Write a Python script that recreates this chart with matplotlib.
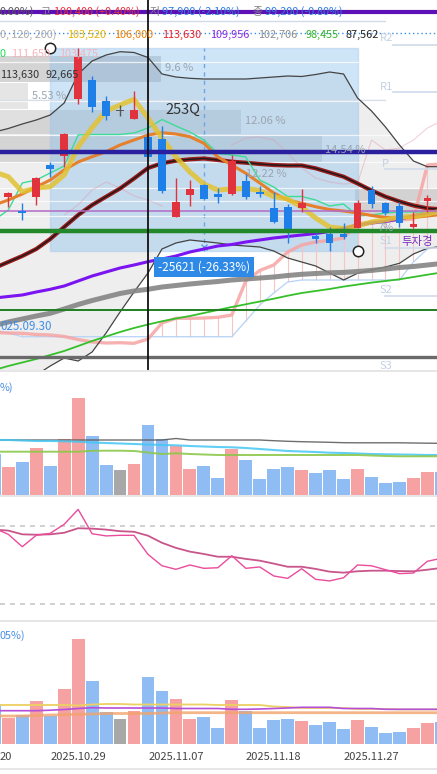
import numpy as np
import matplotlib
matplotlib.use('Agg')
import matplotlib.pyplot as plt
from matplotlib.patches import Rectangle
from matplotlib.transforms import Affine2D, blended_transform_factory
from matplotlib.lines import Line2D

plt.rcParams['font.family'] = ['Noto Sans CJK KR', 'DejaVu Sans']
nan = np.nan

# ---------------- data ----------------
dates = ['2025.10.21', '2025.10.22', '2025.10.23', '2025.10.24', '2025.10.27',
         '2025.10.28', '2025.10.29', '2025.10.30', '2025.10.31', '2025.11.03',
         '2025.11.04', '2025.11.05', '2025.11.06', '2025.11.07', '2025.11.10',
         '2025.11.11', '2025.11.12', '2025.11.13', '2025.11.14', '2025.11.17',
         '2025.11.18', '2025.11.19', '2025.11.20', '2025.11.21', '2025.11.24',
         '2025.11.25', '2025.11.26', '2025.11.27', '2025.11.28', '2025.12.01',
         '2025.12.02', '2025.12.03', '2025.12.04']
tick_pos = [5, 12, 19, 26]
tick_labels = ['2025.10.29', '2025.11.07', '2025.11.18', '2025.11.27']
edge_tick_label = '20'   # visible tail of the 2025.10.20 label at the left edge

open_ = [nan, 90270, 88900, 90270, 93470, 94400, 100070, 102000, 99900, 98930, 98100,
         96330, 96070, 88330, 90470, 91470, 90630, 90600, 91870, 90800, 89170, 89330,
         89230, 86400, 86570, 86570, 87170, 91000, 89730, 89430, 87270, 89900, nan]
high_ = [nan, 90800, 89730, 92330, 93830, 96730, 105230, 102400, 100400, 99500, 100900,
         96500, 97400, 92170, 92000, 91600, 91200, 94500, 92600, 91400, 90830, 89600,
         91070, 86730, 87300, 87730, 90000, 91400, 89800, 89800, 88830, 90500, nan]
low_ = [nan, 89330, 88000, 89530, 92270, 93330, 99570, 98830, 98000, 98400, 98100,
        94300, 90730, 88270, 89430, 90100, 89730, 90470, 90130, 90270, 87670, 85670,
        88770, 85670, 84930, 86070, 87170, 89170, 88470, 87270, 87170, 88830, nan]
close_ = [nan, 90730, 88670, 92230, 93070, 96600, 104330, 99270, 98400, 98930, 99000,
          94330, 90930, 89800, 91130, 90130, 90270, 93930, 90270, 90600, 87830, 86930,
          89670, 86070, 85670, 86330, 89670, 89600, 88730, 87670, 87600, 90170, nan]
direction = ['d', 'u', 'd', 'u', 'd', 'u', 'u', 'd', 'd', 'n', 'u', 'd', 'd', 'u', 'u', 'd',
             'd', 'u', 'd', 'd', 'd', 'd', 'u', 'd', 'd', 'd', 'u', 'd', 'd', 'd', 'u', 'u', 'd']

ma5 = [92800, 92330, 90830, 91200, 91330, 92500, 95330, 97230, 98900, 99500, 100070,
       98200, 96200, 94300, 92800, 91600, 91000, 91100, 91150, 90950, 90350, 90100,
       89300, 88200, 87300, 87150, 87400, 87800, 88000, 88300, 88350, 88600, 88900]
ma10 = [89500, 90000, 90600, 91300, 92000, 93000, 93800, 94330, 94830, 95500, 96000,
        96500, 96730, 96600, 96330, 95670, 94300, 93500, 92670, 91700, 90700, 90000,
        89670, 89330, 89050, 88900, 88700, 88450, 88250, 88200, 88250, 88400, 88550]
conv_line = [88000, 89000, 91700, 92000, 92700, 93400, 96500, 96550, 96550, 96550, 96700,
             97200, 98050, 97400, 96800, 96000, 94650, 94500, 94300, 92000, 91300, 90350,
             90350, 90000, 89400, 89600, 88400, 88500, 88700, 88800, 88800, 88800, 88900]
ma20 = [83200, 83800, 84400, 85100, 86100, 87300, 88500, 89500, 90330, 91150, 92150,
        93200, 93670, 93930, 94070, 94150, 94000, 93830, 93730, 93600, 93500, 93450,
        93450, 93170, 92750, 92330, 91650, 90950, 90330, 89850, 89450, 89170, 89070]
ma60 = [80200, 80350, 80500, 80800, 81070, 81400, 81900, 82400, 82800, 83200, 83500,
        83830, 84100, 84400, 84800, 85100, 85400, 85550, 85800, 86000, 86200, 86350,
        86500, 86650, 86850, 87150, 87500, 87700, 87850, 88100, 88400, 88700, 89000]
ma120 = [77450, 77800, 78100, 78400, 78670, 79100, 79550, 79950, 80300, 80650, 80900,
         81070, 81300, 81450, 81600, 81730, 81850, 82000, 82100, 82200, 82300, 82450,
         82570, 82650, 82720, 82760, 82850, 82960, 83100, 83250, 83350, 83500, 83650]
ma200 = [73000, 73400, 73750, 74100, 74500, 74900, 75400, 75900, 76350, 76800, 77200,
         77550, 77870, 78150, 78400, 78700, 79000, 79300, 79570, 79850, 80130, 80430,
         80700, 80900, 81100, 81340, 81540, 81740, 81900, 82070, 82300, 82530, 82750]
bb_upper = [96800, 97150, 97600, 98000, 98500, 99700, 102600, 103900, 104500, 104830, 104750,
            104250, 102600, 102300, 102170, 102100, 102100, 102100, 102100, 102200, 102300, 102400,
            102350, 102550, 102800, 102600, 100200, 98900, 97300, 95500, 93900, 93330, 93330]
bb_lower = [70500, 71000, 71700, 72500, 73400, 74200, 73900, 74800, 76700, 78800, 80800,
            82700, 85100, 85700, 86000, 85850, 85700, 85500, 85400, 85300, 84900, 84200,
            83800, 83400, 82700, 82000, 82670, 83000, 83300, 83670, 84600, 85170, 85350]
stop_line = [76750, 76700, 76670, 76550, 76500, 76350, 76050, 75800, 75700, 75730, 75670,
             76100, 77700, 78170, 78170, 78200, 78270, 78500, 81900, 82950, 83500, 84800,
             85500, 85800, 85970, 86200, 87600, 87800, 87900, 88000, 88100, 93500, 93600]
base_line = [77000, 76700, 76330, 76330, 76330, 76330, 76330, 76330, 76330, 76330, 76330,
             76330, 76330, 76330, 76330, 76330, 76330, 76330, 77900, 79500, 80700, 81800,
             82000, 82000, 82000, 82000, 82000, 82000, 82000, 82000, 83800, 85100, 85400]
span_line = [nan, nan, nan, nan, nan, 88500, 89500, 91000, 91800, 91200, 90400,
             90000, 89400, nan, nan, nan, nan, 95500, 96200, 96300, 96000, 94700,
             93200, 92200, 91800, 91600, 91700, 96000, 95000, 95200, 96000, 97200, 97900]

levels = {'purple': 108800, 'navy': 94830, 'violet': 88930, 'green': 86900,
          'dkgreen': 79030, 'gray': 74300, 'dotted': 106670}
measure = {'x0': 3, 'p0': 105230, 'x1': 25, 'p1': 84930}

volume_k = [407, 283, 327, 470, 290, 560, 973, 593, 300, 247, 310, 703, 560, 490, 263, 290,
            173, 463, 353, 163, 263, 280, 247, 217, 253, 157, 263, 183, 120, 130, 173, 227, 227]
vol_ma_a = [550, 550, 550, 550, 550, 550, 550, 550, 550, 550, 550, 550, 550, 565, 550, 550,
            550, 550, 550, 550, 543, 537, 533, 530, 527, 523, 522, 522, 522, 522, 520, 518, 517]
vol_ma_b = [550, 550, 545, 540, 540, 537, 533, 525, 520, 515, 510, 505, 500, 497, 490, 485,
            480, 477, 470, 460, 450, 440, 435, 430, 423, 420, 415, 410, 407, 405, 403, 400, 400]
vol_ma_c = [433, 433, 433, 433, 433, 433, 433, 442, 443, 443, 440, 425, 410, 417, 410, 405,
            400, 400, 400, 400, 400, 400, 400, 400, 400, 400, 400, 395, 390, 387, 387, 387, 387]

osc = [68.7, 65.6, 59.3, 65.1, 66.1, 70.7, 78.3, 65.9, 64.8, 65.1, 65.1, 55.4, 49.6, 47.8,
       50.0, 48.3, 48.6, 54.7, 48.3, 49.0, 44.4, 43.2, 48.1, 42.7, 41.9, 43.5, 50.0, 49.6,
       47.6, 45.6, 45.9, 51.9, 53.4]
osc_signal = [68.0, 67.5, 65.6, 65.4, 65.6, 66.4, 68.7, 68.5, 68.0, 67.2, 66.9, 64.9, 61.3,
              58.7, 56.8, 55.6, 54.2, 54.2, 53.1, 52.2, 50.7, 49.1, 49.1, 48.0, 46.6, 46.1,
              46.8, 47.1, 47.1, 46.9, 46.8, 47.6, 48.5]
osc_bands = [70, 30]

amount = [39, 26.3, 29, 43.3, 28, 55.3, 105.3, 63, 32, 25.3, 32.7, 66.7, 53.3, 45, 24.7, 27.3,
          16.3, 44, 33.3, 15.7, 24.3, 24.7, 23, 19.3, 21.7, 14.7, 23.7, 17.3, 11, 12, 15.7, 21, 22]
amt_ma_a = [39, 39, 39, 39, 39, 39, 38.5, 39.5, 40, 40, 39.5, 39.5, 39.5, 39.5, 39.5, 39.5,
            39, 39, 39, 39, 37.5, 37, 36, 36, 36, 36, 35, 35, 35, 34.5, 34.5, 34.5, 34.5]
amt_ma_b = [33.3, 33.3, 33.3, 33.3, 33.8, 34.5, 35.5, 36.3, 36, 36, 36, 36, 36, 35.5, 35.5,
            35.5, 35.5, 34.7, 34.7, 35, 35.5, 36, 36.7, 36.7, 36.7, 35.5, 35.5, 35.5, 34.7,
            34.7, 34.7, 34.7, 34.7]
amt_ma_c = [28, 28, 28, 28.5, 29, 29.3, 29.7, 30, 30.5, 30.5, 30.5, 30.5, 31, 31.3, 31.3,
            31.3, 31.3, 31.3, 31.3, 31.3, 31.3, 31.3, 31.3, 31.3, 31.3, 31.3, 31.3, 31.3, 31.3,
            31.3, 31.3, 31.3, 31.3]

# ---------------- figure ----------------
W, H = 437, 774
fig = plt.figure(figsize=(W / 100, H / 100), dpi=100)
T = Affine2D().scale(1, -1).translate(0, H)   # pixel coords, y down

x = np.arange(len(dates)) - 1
XL = (-0.594, 30.687)


def panel(top, bottom):
    a = fig.add_axes([0, 1 - bottom / H, 1, (bottom - top) / H])
    a.set_xlim(*XL)
    a.set_axis_off()
    return a


ax = panel(0, 370)
ax.set_ylim(73000, 110000)

o = np.array(open_); hi = np.array(high_); lo = np.array(low_); c = np.array(close_)

# Bollinger fill
ax.fill_between(x, bb_lower, bb_upper, color='#eeeeee', lw=0, zorder=0.5)

# gray range boxes (annotations, pixel coords)
for (x0, x1, y0, y1, a) in [(-2, 161, 56, 82, 0.36), (-2, 28, 83, 109, 0.22),
                            (-2, 241, 110, 134, 0.26), (-2, 322, 136, 162, 0.26),
                            (355, 440, 189, 217, 0.28)]:
    ax.add_patch(Rectangle((x0, y0), x1 - x0, y1 - y0, transform=T, fc='#8a8a8a',
                           ec='none', alpha=a, zorder=1))

# measurement box
ax.add_patch(Rectangle((measure['x0'], measure['p1']), measure['x1'] - measure['x0'],
                       measure['p0'] - measure['p1'], fc='#8cbfed', ec='#9ec3ec', lw=1,
                       alpha=0.42, zorder=1.5))
xm = (measure['x0'] + measure['x1']) / 2
ax.plot([xm, xm], [measure['p1'], measure['p0']], color='#6aa6e8', lw=1, ls=(0, (3, 3)),
        zorder=1.6)
ax.plot([xm], [measure['p1'] + 350], marker='x', ms=4, color='#5a9be6', zorder=1.6)

# light gridlines
for yy in [62, 101, 135, 162, 188, 201, 216]:
    ax.plot([0, W], [yy, yy], transform=T, color='white', lw=0.9, alpha=0.75, zorder=1.6)
for yy in [21, 100]:
    ax.plot([0, 385], [yy, yy], transform=T, color='#d3dbe6', lw=1, zorder=1.55)

# thin lines
ax.plot(x, span_line, color='#e39aae', lw=0.8, alpha=0.45, zorder=1.7)
sp = np.array(stop_line); bl = np.array(base_line)
m = sp > bl + 100
ax.vlines(x[m], bl[m], sp[m], color='#f6c4c4', lw=0.8, zorder=1.7)
ax.plot(x, base_line, color='#bcd6f5', lw=1, zorder=1.8)
ax.plot(x, stop_line, color='#f6a4a4', lw=2.4, alpha=0.85, zorder=1.9)
ax.plot(x, bb_upper, color='#444444', lw=0.9, zorder=2)
ax.plot(x, bb_lower, color='#444444', lw=0.9, zorder=2)
ax.plot(x, ma200, color='#35c02a', lw=1.3, zorder=2.1)
ax.plot(x, ma120, color='#858585', lw=3.6, alpha=0.9, zorder=2.2)
ax.plot(x, ma60, color='#7a14f0', lw=2.2, zorder=2.3)
ax.plot(x, ma20, color='#9b1c1c', lw=3.0, zorder=2.4)
ax.plot(x, ma20, color='#1a1a1a', lw=1.0, zorder=2.45)
ax.plot(x, conv_line, color='#3ddc97', lw=1.0, zorder=2.5)
ax.plot(x, ma10, color='#e5802c', lw=2.2, zorder=2.6)
ax.plot(x, ma5, color='#e2c232', lw=3.6, alpha=0.85, zorder=2.7)

# horizontal level lines
ax.axhline(levels['violet'], color='#b46ac6', lw=1.1, zorder=3)
ax.axhline(levels['dkgreen'], color='#1f7f1f', lw=1.4, zorder=3)
ax.axhline(levels['gray'], color='#6a6a6a', lw=2.4, zorder=3)
ax.axhline(levels['dotted'], color='#3c8fe8', lw=1, ls=(0, (1, 2)), zorder=3)

# pivots
for name, yl, yline, xs in [('R2', 38, 45, 393), ('R1', 87, 92, 393), ('P', 164, 169.3, 385),
                            ('S1', 241, 248, 385), ('S2', 290, 296, 385), ('S3', 366, 373, 385)]:
    ax.plot([xs, W], [yline, yline], transform=T, color='#d0dbea', lw=1.2, zorder=3)
    ax.text(380 if name != 'P' else 382, yl, name, transform=T, color='#c3d0e3',
            fontsize=8, va='center', ha='left', zorder=3)

# candles
UP, DN, NT = '#e0333d', '#1f7fe8', '#555555'
for i in range(len(x)):
    if np.isnan(o[i]):
        continue
    col = UP if c[i] > o[i] else (DN if c[i] < o[i] else NT)
    ax.vlines(x[i], lo[i], hi[i], color=col, lw=1.0, zorder=5)
    ax.bar(x[i], max(abs(c[i] - o[i]), 90), bottom=min(o[i], c[i]), width=0.55,
           color=col, lw=0, zorder=5)

ax.axhline(levels['navy'], color='#2a1f9e', lw=3.2, zorder=6)
ax.axhline(levels['green'], color='#22882a', lw=3.2, zorder=6)
ax.axhline(levels['purple'], color='#5c10b5', lw=3.0, zorder=6)

# box labels
lab = dict(transform=T, color='#9aa4b0', fontsize=8, va='center', ha='left', zorder=7)
ax.text(165, 68, '9.6 %', **lab)
ax.text(32, 96, '5.53 %', **lab)
ax.text(245, 121, '12.06 %', **lab)
ax.text(325, 150, '14.54 %', **lab)
ax.text(246, 174, '12.22 %', **lab)
ax.text(377, 228, '7%', **lab)
ax.text(165, 110, '253Q', transform=T, color='#333333', fontsize=10.5, va='center',
        ha='left', zorder=7)
ax.text(401, 242, '투자경', transform=T, color='#7a2fbf', fontsize=8.2, va='center',
        ha='left', zorder=7)
ax.text(0, 327, '025.09.30', transform=T, color='#3d8ee8', fontsize=8.3, va='center',
        ha='left', zorder=7)
ax.text(xm, 267, '-25621 (-26.33%)', transform=blended_transform_factory(ax.transData, T),
        color='white', fontsize=8.5, va='center', ha='center', zorder=8,
        bbox=dict(boxstyle='square,pad=0.32', fc='#2e8ae6', ec='none'))
ax.plot([measure['x0'], measure['x1']], [measure['p0'], measure['p1']], ls='none',
        marker='o', ms=7.5, mfc='white', mec='#222222', mew=1.1, zorder=8, clip_on=False)

# crosshair
ax.axvline(10, color='#111111', lw=1.3, zorder=9)

# header texts
def ft(xp, yp, s, col, ha='left', fs=7.8):
    fig.text(xp, yp, s, transform=T, color=col, fontsize=fs, ha=ha, va='center', zorder=10)

ft(0, 12, '0.00%)', '#555555')
ft(40, 12, '고', '#888888')
ft(54, 12, '100,400 (+0.40%)', '#e8323c')
ft(150, 12, '저', '#888888')
ft(162, 12, '97,900 (-2.10%)', '#2f7de1')
ft(252, 12, '종', '#888888')
ft(265, 12, '99,200 (-0.80%)', '#2f7de1')
ft(0, 35, '0, 120, 200)', '#aaaaaa')
for xp, s, col in [(67, '103,520', '#e6b400'), (114, '106,000', '#f08000'),
                   (162, '113,630', '#e82028'), (210, '109,956', '#8a2be2'),
                   (258, '102,706', '#8c8c8c'), (305, '98,455', '#35b52a'),
                   (345, '87,562', '#222222')]:
    ft(xp, 35, s, col)
ft(0, 54, '0', '#22dd55')
ft(11, 54, '111,650', '#f4b4bc')
ft(59, 54, '103,475', '#f4b4bc')
ft(0, 75, '113,630', '#333333')
ft(45, 75, '92,665', '#333333')

# ---------------- volume panel ----------------
vcol = {'u': '#f6a2a2', 'd': '#8fbcf3', 'n': '#a8a8a8'}
av = panel(372, 495)
av.set_ylim(0, 1230)
av.bar(x, volume_k, width=0.92, color=[vcol[d] for d in direction], lw=0)
av.plot(x, vol_ma_a, color='#555555', lw=1.0, alpha=0.85)
av.plot(x, vol_ma_b, color='#45c6f2', lw=1.5, alpha=0.85)
av.plot(x, vol_ma_c, color='#8cc84a', lw=1.4, alpha=0.9)
ft(0, 388, '%)', '#4a90e2', fs=7.8)

# ---------------- oscillator panel ----------------
ao = panel(497, 620)
ao.set_ylim(22.0, 84.6)
for b in osc_bands:
    ao.axhline(b, color='#c8c8c8', lw=1.2, ls=(0, (3, 3)))
ao.plot(x, osc_signal, color='#c2437e', lw=1.3, alpha=0.9)
ao.plot(x, osc, color='#ea4c9c', lw=1.0)

# ---------------- trading value panel ----------------
aa = panel(622, 744)
aa.set_ylim(0, 122)
aa.bar(x, amount, width=0.92, color=[vcol[d] for d in direction], lw=0)
aa.plot(x, amt_ma_c, color='#f2a36a', lw=2.0, alpha=0.8)
aa.plot(x, amt_ma_a, color='#ecd062', lw=1.3)
aa.plot(x, amt_ma_b, color='#b54fd8', lw=1.2)
ft(0, 636, '05%)', '#4a90e2', fs=7.8)

bt = blended_transform_factory(aa.transData, T)
for p, s in zip(tick_pos, tick_labels):
    aa.text(p, 757, s, transform=bt, ha='center', va='center', fontsize=8, color='#444444',
            clip_on=False)
ft(0, 757, edge_tick_label, '#444444', fs=8)

# separators
for yy in [371, 496, 621, 769]:
    fig.add_artist(Line2D([0, W], [yy, yy], transform=T, color='#e2e2e2', lw=1.2))

fig.savefig('out.png', dpi=100)
